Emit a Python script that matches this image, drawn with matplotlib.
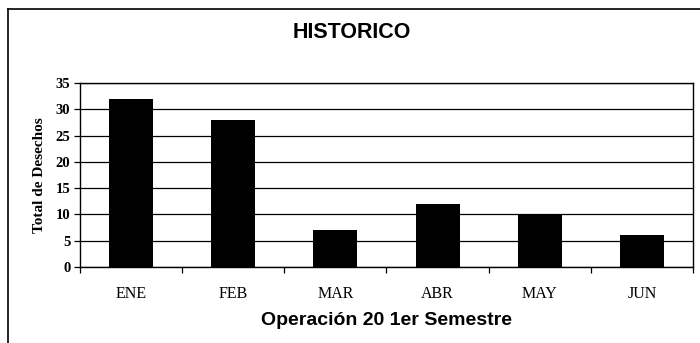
import matplotlib
matplotlib.use('Agg')
import matplotlib.pyplot as plt
from matplotlib.lines import Line2D

# monthly waste totals, first half of the year
months = ['ENE', 'FEB', 'MAR', 'ABR', 'MAY', 'JUN']
totals = [32, 28, 7, 12, 10, 6]
yticks = [0, 5, 10, 15, 20, 25, 30, 35]

fig = plt.figure(figsize=(7, 3.43), dpi=100)
W, H = 700, 343
ax = fig.add_axes([80 / W, 1 - 267 / H, (693 - 80) / W, (267 - 83) / H])

x = list(range(len(months)))
ax.bar(x, totals, width=0.43, color='black', zorder=3)
ax.set_xlim(-0.5, len(months) - 0.5)
ax.set_ylim(0, 35)

# grid lines every 5 units
ax.set_yticks(yticks)
ax.set_yticklabels([str(v) for v in yticks], fontfamily='Liberation Serif',
                   fontweight='bold', fontsize=10.5)
ax.yaxis.grid(True, color='black', linewidth=0.9, zorder=0)
ax.tick_params(axis='y', direction='out', length=4, width=0.9, pad=3)

# category labels centred, tick marks at the boundaries
ax.set_xticks(x)
ax.set_xticklabels(months, fontfamily='Liberation Serif', fontsize=11.5)
ax.tick_params(axis='x', length=0, pad=14)
ax.set_xticks([i - 0.5 for i in range(len(months) + 1)], minor=True)
ax.tick_params(axis='x', which='minor', direction='out', length=4, width=0.9)

for s in ax.spines.values():
    s.set_color('black')
    s.set_linewidth(1.0)

ax.set_ylabel('Total de Desechos', fontfamily='Liberation Serif',
              fontweight='bold', fontsize=11, labelpad=7)
ax.set_xlabel('Operación 20 1er Semestre', fontfamily='Liberation Sans',
              fontweight='bold', fontsize=14, labelpad=7)

fig.text(352 / W, 1 - 33 / H, 'HISTORICO', ha='center', va='center',
         fontfamily='Liberation Sans', fontweight='bold', fontsize=15.5)

# outer chart border (left and top edges)
fig.add_artist(Line2D([8 / W, 8 / W], [0, 1 - 9 / H], color='black', linewidth=1.2))
fig.add_artist(Line2D([8 / W, 1], [1 - 9 / H, 1 - 9 / H], color='black', linewidth=1.2))

fig.savefig('out.png', dpi=100)
